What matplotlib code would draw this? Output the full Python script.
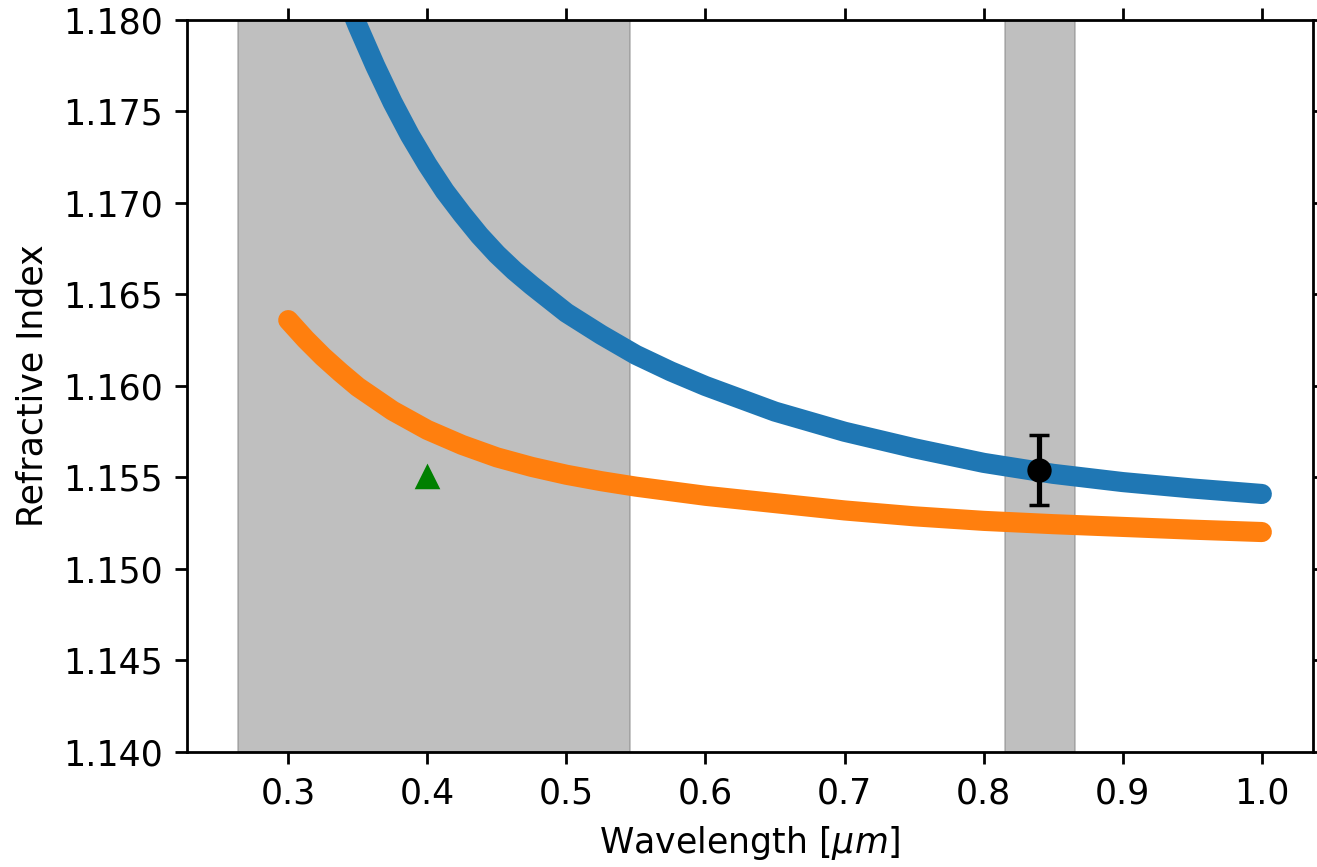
import matplotlib
matplotlib.use('Agg')
import matplotlib.pyplot as plt

# indice de refracao (curva azul) por comprimento de onda
lam_azul = [0.340, 0.350, 0.3625, 0.375, 0.3875, 0.400, 0.4125, 0.425, 0.4375, 0.450,
            0.4625, 0.475, 0.500, 0.525, 0.550, 0.575, 0.600, 0.650, 0.700, 0.750,
            0.800, 0.850, 0.900, 0.950, 1.000]
n_azul = [1.18155, 1.17967, 1.1775, 1.1755, 1.1737, 1.1721, 1.17065, 1.1694, 1.16823, 1.1672,
          1.1663, 1.1655, 1.1640, 1.1628, 1.1617, 1.1608, 1.1600, 1.1586, 1.1575, 1.1566,
          1.1558, 1.1552, 1.15475, 1.1544, 1.1541]

# curva laranja
lam_laranja = [0.300, 0.3125, 0.325, 0.3375, 0.350, 0.375, 0.400, 0.425, 0.450, 0.475,
               0.500, 0.525, 0.550, 0.600, 0.650, 0.700, 0.750, 0.800, 0.850, 0.900,
               0.950, 1.000]
n_laranja = [1.1636, 1.16255, 1.1616, 1.16075, 1.15995, 1.15865, 1.1576, 1.15678, 1.1561, 1.15558,
             1.15515, 1.1548, 1.1545, 1.1540, 1.1536, 1.1532, 1.15288, 1.15263, 1.15245, 1.1523,
             1.15215, 1.15202]

# faixas dos filtros
faixas = [(0.264, 0.546), (0.815, 0.866)]

# medida com barra de erro
lam_medida = [0.84]
n_medida = [1.1554]
erro_medida = [0.0019]

# ponto extra
lam_tri = [0.40]
n_tri = [1.155]

fig = plt.figure(figsize=(1317 / 250, 867 / 250), dpi=250)
ax = fig.add_axes([187 / 1317, 115 / 867, 1126 / 1317, 732 / 867])

for ini, fim in faixas:
    ax.axvspan(ini, fim, color='gray', alpha=0.5, lw=0.5)

ax.plot(lam_azul, n_azul, color='C0', lw=5.8, solid_capstyle='round', solid_joinstyle='round')
ax.plot(lam_laranja, n_laranja, color='C1', lw=5.8, solid_capstyle='round', solid_joinstyle='round')
ax.errorbar(lam_medida, n_medida, yerr=erro_medida, fmt='o', color='k', capsize=3)
ax.plot(lam_tri, n_tri, '^', color='green')

ax.set_ylim(1.140, 1.180)
ax.tick_params(top=True, right=True)
ax.set_xlabel(r'Wavelength [$\mu m$]')
ax.set_ylabel('Refractive Index')

fig.savefig('out.png', dpi=250)
